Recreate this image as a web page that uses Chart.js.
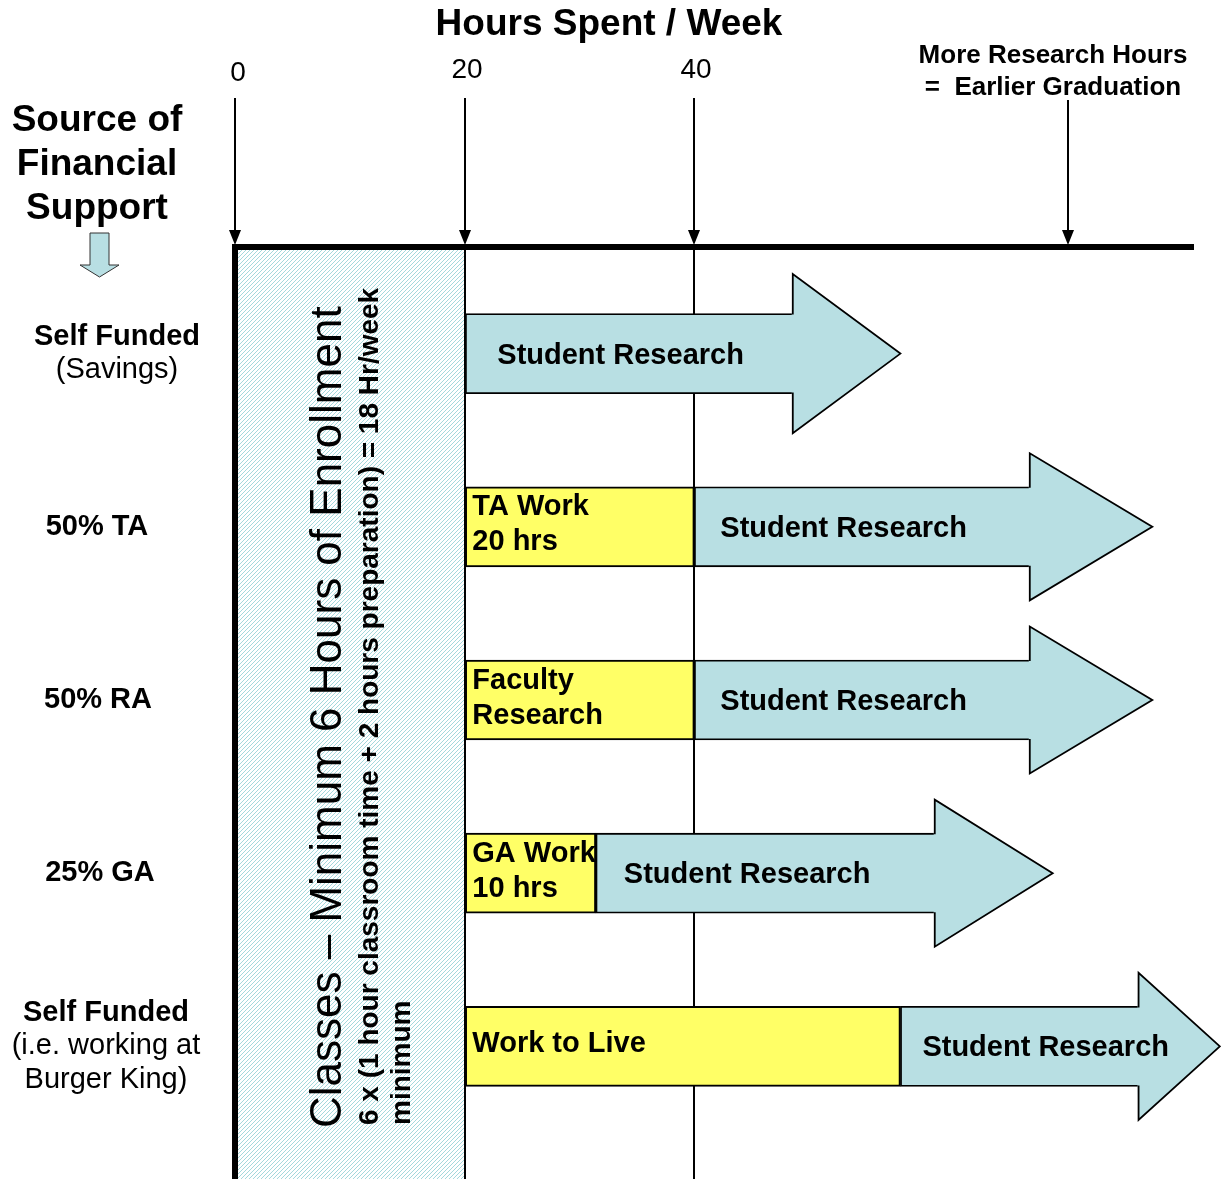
<!DOCTYPE html>
<html>
<head>
<meta charset="utf-8">
<script src="https://cdn.jsdelivr.net/npm/chart.js@4/dist/chart.umd.min.js"></script>
<style>
html,body{margin:0;padding:0;background:#ffffff;}
#wrap{width:1221px;height:1179px;position:relative;}
</style>
</head>
<body>
<div id="wrap"><canvas id="c"></canvas></div>
<script>
// ---------------- DATA ----------------
const categories = ['Self Funded (Savings)', '50% TA', '50% RA', '25% GA', 'Self Funded (i.e. working at Burger King)'];
const rowTitles = ['Self Funded', '50% TA', '50% RA', '25% GA', 'Self Funded'];
const rowNotes = [['(Savings)'], [], [], [], ['(i.e. working at', 'Burger King)']];

const workLabels = [null, ['TA Work', '20 hrs'], ['Faculty', 'Research'], ['GA Work', '10 hrs'], ['Work to Live']];
const workStart = [null, 20, 20, 20, 20];
const workEnd = [null, 40, 40, 31.4, 58];

const researchLabel = 'Student Research';
const researchStart = [20, 40, 40, 31.4, 58];
const researchHeadStart = [48.6, 69.3, 69.3, 61.0, 78.8];
const researchEnd = [58, 80, 80, 71.3, 85.9];

const tickValues = [0, 20, 40];
const tickLabels = ['0', '20', '40'];
const moreHoursAt = 72.6;
const moreHoursText = ['More Research Hours', '=  Earlier Graduation'];
const axisEnd = 83.6;
const classesHours = [0, 20];
const classesText = ['Classes \u2013 Minimum 6 Hours of Enrollment',
                     '6 x (1 hour classroom time + 2 hours preparation) = 18 Hr/week',
                     'minimum'];
const chartTitle = 'Hours Spent / Week';
const sideTitle = ['Source of', 'Financial', 'Support'];

// ---------------- STYLE ----------------
const FONT = '"Liberation Sans", Arial, Helvetica, sans-serif';
const ARROW_FILL = '#B8DFE3';
const YELLOW = '#FFFF66';
const AXIS_Y = 247;
const BOTTOM = 1179;
const BAR_H = 80;
const headHeights = [159, 147, 147, 147, 147];
const researchTextOffset = [32, 26, 26, 28, 22];
const labelCenterX = [117, 97, 98, 100, 106];

function makeHatch(ctx) {
  const c = document.createElement('canvas');
  c.width = 4; c.height = 4;
  const g = c.getContext('2d');
  g.fillStyle = '#ffffff'; g.fillRect(0, 0, 4, 4);
  g.fillStyle = '#A4D8DC';
  for (let i = 0; i < 4; i++) g.fillRect(3 - i, i, 1, 1);
  return ctx.createPattern(c, 'repeat');
}

function downArrow(ctx, x, y0, tip) {
  ctx.save();
  ctx.strokeStyle = '#000'; ctx.lineWidth = 2;
  ctx.beginPath(); ctx.moveTo(x, y0); ctx.lineTo(x, tip - 12); ctx.stroke();
  ctx.fillStyle = '#000';
  ctx.beginPath(); ctx.moveTo(x - 6, tip - 15); ctx.lineTo(x + 6, tip - 15); ctx.lineTo(x, tip); ctx.closePath(); ctx.fill();
  ctx.restore();
}

const backdrop = {
  id: 'backdrop',
  beforeDatasetsDraw(chart) {
    const ctx = chart.ctx, xs = chart.scales.x, ys = chart.scales.y;
    const px = v => Math.round(xs.getPixelForValue(v));
    ctx.save();
    // classes hatched region
    const cx0 = px(classesHours[0]), cx1 = px(classesHours[1]);
    ctx.fillStyle = makeHatch(ctx);
    ctx.fillRect(cx0, AXIS_Y, cx1 - cx0, BOTTOM - AXIS_Y);
    // vertical guide lines
    ctx.strokeStyle = '#000'; ctx.lineWidth = 2;
    [20, 40].forEach(v => {
      ctx.beginPath(); ctx.moveTo(px(v), AXIS_Y); ctx.lineTo(px(v), BOTTOM); ctx.stroke();
    });
    // thick left line
    ctx.lineWidth = 6;
    ctx.beginPath(); ctx.moveTo(cx0 - 1, AXIS_Y - 3); ctx.lineTo(cx0 - 1, BOTTOM); ctx.stroke();
    // axis line
    ctx.beginPath(); ctx.moveTo(cx0 - 4, AXIS_Y); ctx.lineTo(px(axisEnd), AXIS_Y); ctx.stroke();
    // tick arrows + labels
    ctx.fillStyle = '#000';
    ctx.font = '28px ' + FONT; ctx.textAlign = 'center'; ctx.textBaseline = 'middle';
    tickValues.forEach((v, i) => {
      downArrow(ctx, px(v) - (i === 0 ? 1 : 0), 98, AXIS_Y - 2);
      ctx.fillStyle = '#000';
      ctx.fillText(tickLabels[i], px(v) + 2, i === 0 ? 73 : 70);
    });
    downArrow(ctx, px(moreHoursAt), 100, AXIS_Y - 2);
    ctx.font = 'bold 26px ' + FONT;
    ctx.fillText(moreHoursText[0], px(moreHoursAt) - 15, 56);
    ctx.fillText(moreHoursText[1], px(moreHoursAt) - 15, 88);
    // chart title
    ctx.font = 'bold 37px ' + FONT;
    ctx.fillText(chartTitle, 609, 25);
    // side title
    sideTitle.forEach((t, i) => ctx.fillText(t, 97, 121 + i * 44));
    // light blue down arrow
    ctx.fillStyle = ARROW_FILL; ctx.strokeStyle = '#333'; ctx.lineWidth = 1;
    ctx.beginPath();
    ctx.moveTo(90, 233); ctx.lineTo(109, 233); ctx.lineTo(109, 265); ctx.lineTo(119, 265);
    ctx.lineTo(99.5, 277); ctx.lineTo(80, 265); ctx.lineTo(90, 265); ctx.closePath();
    ctx.fill(); ctx.stroke();
    // row labels
    ctx.fillStyle = '#000';
    categories.forEach((c, i) => {
      const cy = ys.getPixelForValue(i);
      const lines = 1 + rowNotes[i].length;
      const lh = 33.5;
      let y = cy - (lines - 1) * lh / 2;
      ctx.font = 'bold 29px ' + FONT;
      ctx.fillText(rowTitles[i], labelCenterX[i], y);
      ctx.font = '29px ' + FONT;
      rowNotes[i].forEach((n, k) => ctx.fillText(n, labelCenterX[i], y + (k + 1) * lh));
    });
    // rotated class text
    ctx.save();
    ctx.translate(cx0 + 105, 1128);
    ctx.rotate(-Math.PI / 2);
    ctx.textAlign = 'left'; ctx.textBaseline = 'alphabetic';
    ctx.font = '44px ' + FONT;
    ctx.fillText(classesText[0], 0, 0);
    ctx.font = 'bold 28px ' + FONT;
    ctx.fillText(classesText[1], 3, 37);
    ctx.fillText(classesText[2], 3, 69);
    ctx.restore();
    ctx.restore();
  },
  afterDatasetsDraw(chart) {
    const ctx = chart.ctx, xs = chart.scales.x, ys = chart.scales.y;
    const px = v => xs.getPixelForValue(v);
    ctx.save();
    categories.forEach((c, i) => {
      const cy = ys.getPixelForValue(i);
      const bx = px(researchHeadStart[i]), tx = px(researchEnd[i]);
      const hh = headHeights[i] / 2;
      ctx.fillStyle = ARROW_FILL;
      ctx.beginPath();
      ctx.moveTo(bx - 1, cy - BAR_H / 2 + 2); ctx.lineTo(bx, cy - hh); ctx.lineTo(tx, cy);
      ctx.lineTo(bx, cy + hh); ctx.lineTo(bx - 1, cy + BAR_H / 2 - 2); ctx.closePath();
      ctx.fill();
      ctx.strokeStyle = '#000'; ctx.lineWidth = 1.8; ctx.lineJoin = 'miter';
      ctx.beginPath();
      ctx.moveTo(bx, cy - BAR_H / 2 + 1); ctx.lineTo(bx, cy - hh); ctx.lineTo(tx, cy);
      ctx.lineTo(bx, cy + hh); ctx.lineTo(bx, cy + BAR_H / 2 - 1);
      ctx.stroke();
      // research label
      ctx.fillStyle = '#000';
      ctx.font = 'bold 29px ' + FONT; ctx.textAlign = 'left'; ctx.textBaseline = 'middle';
      ctx.fillText(researchLabel, px(researchStart[i]) + researchTextOffset[i], cy + 2);
      // work label
      if (workLabels[i]) {
        const lines = workLabels[i];
        const lh = 35;
        const y0 = cy - 2 - (lines.length - 1) * lh / 2;
        lines.forEach((t, k) => ctx.fillText(t, px(workStart[i]) + 7, y0 + k * lh));
      }
    });
    ctx.restore();
  }
};

const ctxEl = document.getElementById('c');
new Chart(ctxEl, {
  type: 'bar',
  data: {
    labels: categories,
    datasets: [
      {
        label: 'Work',
        data: categories.map((c, i) => workStart[i] === null ? null : [workStart[i], workEnd[i]]),
        backgroundColor: YELLOW,
        borderColor: '#000',
        borderWidth: 2,
        borderSkipped: false,
        barThickness: BAR_H,
        grouped: false,
        order: 1
      },
      {
        label: researchLabel,
        data: categories.map((c, i) => [researchStart[i], researchHeadStart[i]]),
        backgroundColor: ARROW_FILL,
        borderColor: '#000',
        borderWidth: 1.8,
        borderSkipped: 'right',
        barThickness: BAR_H,
        grouped: false,
        order: 2
      }
    ]
  },
  options: {
    indexAxis: 'y',
    responsive: true,
    maintainAspectRatio: false,
    devicePixelRatio: 1,
    animation: false,
    layout: { padding: { top: 267, bottom: 46, left: 0, right: 0 } },
    plugins: { legend: { display: false }, tooltip: { enabled: false }, title: { display: false } },
    scales: {
      x: { type: 'linear', min: -20.64, max: 86.0, display: false },
      y: { type: 'category', offset: true, display: false }
    }
  },
  plugins: [backdrop]
});
</script>
</body>
</html>
